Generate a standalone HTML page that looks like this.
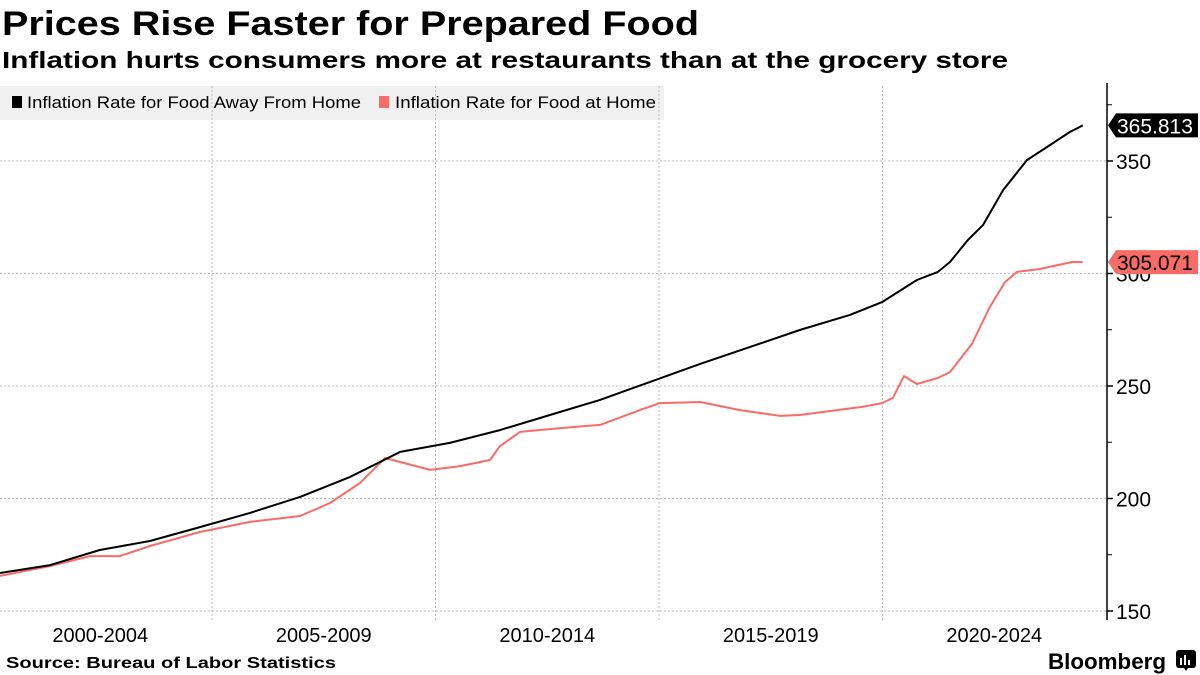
<!DOCTYPE html>
<html><head><meta charset="utf-8"><style>
html,body{margin:0;padding:0;background:#fff;}
svg{display:block;font-family:"Liberation Sans",sans-serif;}
</style></head><body>
<svg id="chart" width="1200" height="675" viewBox="0 0 1200 675">
<text x="2" y="35" font-size="34" font-weight="bold" textLength="697" lengthAdjust="spacingAndGlyphs">Prices Rise Faster for Prepared Food</text>
<text x="2" y="68" font-size="23" font-weight="bold" textLength="1006" lengthAdjust="spacingAndGlyphs">Inflation hurts consumers more at restaurants than at the grocery store</text>
<rect x="0" y="86" width="664" height="34" fill="#f0f0f0"/>
<g id="grid"></g>
<g id="series"></g>
<g>
<g><rect x="12" y="96" width="10" height="12" fill="#000"/><text x="27" y="108" font-size="16.5" textLength="334" lengthAdjust="spacingAndGlyphs">Inflation Rate for Food Away From Home</text></g>
<g><rect x="379" y="96" width="10" height="12" fill="#f96b67"/><text x="395" y="108" font-size="16.5" textLength="261" lengthAdjust="spacingAndGlyphs">Inflation Rate for Food at Home</text></g>
</g>
<g id="axis"></g>
<g id="xaxis"></g>
<text x="6" y="668" font-size="16" font-weight="bold" textLength="330" lengthAdjust="spacingAndGlyphs">Source: Bureau of Labor Statistics</text>
<text x="1048" y="669" font-size="22" font-weight="bold" textLength="118" lengthAdjust="spacingAndGlyphs">Bloomberg</text>
<g><rect x="1176" y="650" width="20" height="18" rx="3" fill="#000"/><rect x="1180" y="658" width="2" height="7" fill="#fff"/><rect x="1184" y="655" width="2" height="10" fill="#fff"/><rect x="1188" y="660" width="2" height="5" fill="#fff"/><path d="M1184 668 L1186 671 L1188 668Z" fill="#000"/></g>
</svg>
<script>
const awayDates=[2000.26,2001.38,2002.49,2003.61,2004.73,2005.85,2006.97,2008.09,2009.21,2010.32,2011.44,2012.56,2013.68,2014.80,2015.92,2017.03,2018.15,2019.27,2019.99,2020.77,2021.24,2021.51,2021.91,2022.25,2022.70,2023.23,2023.75,2024.19,2024.48];
const awayValues=[166.9,170.4,177.1,181.1,187.3,193.6,200.7,209.6,220.7,224.7,230.4,237.1,243.8,251.8,259.8,267.3,274.9,281.6,287.3,297.1,300.7,305.1,314.9,321.6,337.1,350.4,357.1,362.9,365.813];
const homeDates=[2000.26,2001.38,2002.27,2002.94,2003.61,2004.73,2005.85,2006.97,2007.64,2008.31,2008.87,2009.88,2010.55,2011.22,2011.44,2011.89,2012.79,2013.68,2014.57,2015.02,2015.92,2016.81,2017.71,2018.15,2019.54,2019.99,2020.23,2020.48,2020.77,2021.24,2021.51,2022.00,2022.40,2022.74,2023.01,2023.52,2024.24,2024.48];
const homeValues=[165.6,170.0,174.4,174.4,178.9,185.1,189.6,192.2,198.0,206.9,218.0,212.7,214.4,217.1,223.3,229.6,231.3,232.7,239.3,242.4,242.9,239.3,236.7,237.1,240.7,242.4,244.7,254.4,250.9,253.6,256.2,268.7,285.1,296.2,300.7,302.0,305.1,305.071];
const yTicks=[150,200,250,300,350];
const yMinor=[175,225,275,325,375];
const xPeriods=["2000-2004","2005-2009","2010-2014","2015-2019","2020-2024"];
const xPeriodStarts=[2000,2005,2010,2015,2020];
const lastLabels=["365.813","305.071"];

const NS="http://www.w3.org/2000/svg";
const X=y=>-11.5+(y-2000)*44.7;
const Y=v=>161+(350-v)*2.25;
function mk(t,a,p){const e=document.createElementNS(NS,t);for(const k in a)e.setAttribute(k,a[k]);p.appendChild(e);return e;}
const grid=document.getElementById('grid'),axis=document.getElementById('axis'),xa=document.getElementById('xaxis'),ser=document.getElementById('series');
yTicks.forEach(v=>{
 const l=mk('line',{x1:0,x2:1107,y1:Y(v),y2:Y(v),stroke:'#bbb','stroke-dasharray':'2,2','stroke-width':1},grid);
 
 
 const tk=mk('line',{x1:1107,x2:1113,y1:Y(v),y2:Y(v),stroke:'#000','stroke-width':1.5},axis);
 
 
 const t=mk('text',{x:1116,y:Y(v)+8,'font-size':21},axis);t.textContent=v;
 
 
});
yMinor.forEach(v=>{
 const tk=mk('line',{x1:1107,x2:1112,y1:Y(v),y2:Y(v),stroke:'#000','stroke-width':1},axis);
 
 
});
const ax=mk('line',{x1:1107,x2:1107,y1:83,y2:620,stroke:'#000','stroke-width':1.5},axis);


xPeriodStarts.forEach((s,i)=>{
 if(i>0){const g=mk('line',{x1:X(s),x2:X(s),y1:86,y2:620,stroke:'#bbb','stroke-dasharray':'2,2'},grid);
 
 }
 const t=mk('text',{x:X(s+2.5),y:642,'font-size':20,'text-anchor':'middle'},xa);t.textContent=xPeriods[i];
 
 
});
function line(d,v,c,name){
 const p=mk('polyline',{points:d.map((x,i)=>X(x).toFixed(1)+','+Y(v[i]).toFixed(1)).join(' '),fill:'none',stroke:c,'stroke-width':2,'stroke-linejoin':'round'},ser);
 
 
}
line(homeDates,homeValues,'#f96b67','line-food-at-home');
line(awayDates,awayValues,'#000','line-food-away-from-home');
function tag(v,txt,bg,fg,name){
 const y=Y(v);
 const g=mk('g',{},axis);
 
 
 mk('path',{d:`M1108 ${y} L1116 ${y-12} L1198 ${y-12} L1198 ${y+12} L1116 ${y+12} Z`,fill:bg},g);
 const t=mk('text',{x:1117,y:y+8,'font-size':21,fill:fg},g);t.textContent=txt;
}
tag(awayValues[awayValues.length-1],lastLabels[0],'#000','#fff','last-value-label-away');
tag(homeValues[homeValues.length-1],lastLabels[1],'#f96b67','#000','last-value-label-home');
</script>
</body></html>
